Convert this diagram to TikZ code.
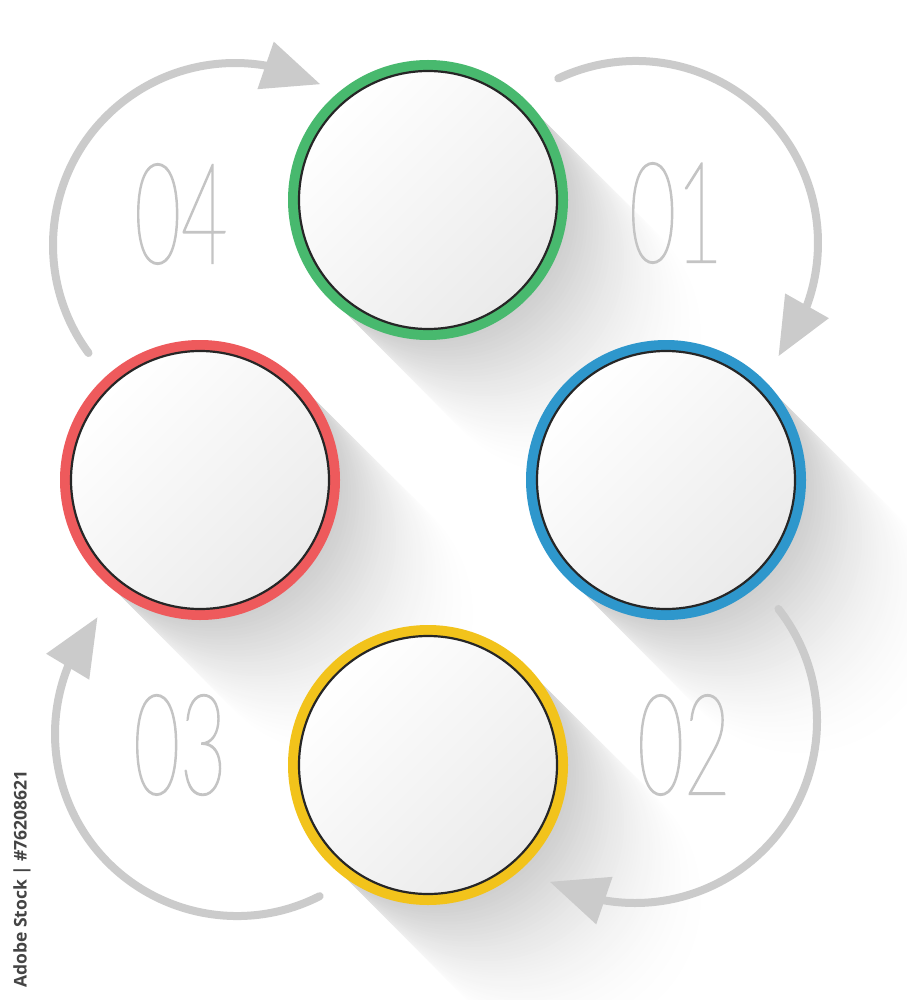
\documentclass[tikz,border=0pt]{standalone}
\usepackage{fontspec}
\usepackage{xcolor}
\usepackage{tikz}
\usetikzlibrary{calc,arrows.meta,bending}
\setmainfont{Open Sans}
% thin face for the step numbers
\def\numface{Liberation Sans}
\IfFontExistsTF{DejaVu Sans ExtraLight}{\def\numface{DejaVu Sans ExtraLight}}{}
\IfFontExistsTF{Open Sans Light}{\def\numface{Open Sans Light}}{}
\IfFontExistsTF{Lato Hairline}{\def\numface{Lato Hairline}}{}
\IfFontExistsTF{Noto Sans Thin}{\def\numface{Noto Sans Thin}}{}
\IfFontExistsTF{Poppins Thin}{\def\numface{Poppins Thin}}{}
\IfFontExistsTF{Fira Sans Thin}{\def\numface{Fira Sans Thin}}{}
\IfFontExistsTF{Lato Thin}{\def\numface{Lato Thin}}{}
\newfontfamily\numfont[FakeStretch=0.57, FakeBold=1]{\numface}
\definecolor{ringgreen}{HTML}{48B96E}
\definecolor{ringblue}{HTML}{2E97CC}
\definecolor{ringred}{HTML}{EE5A5C}
\definecolor{ringyellow}{HTML}{F2C31B}
\definecolor{flow}{HTML}{CBCBCB}
\definecolor{numgray}{HTML}{C4C4C4}
\definecolor{shadow}{HTML}{CDCDCD}
\definecolor{stockmark}{HTML}{444444}
\tikzset{
  disc/.style={circle, inner sep=0pt, minimum size=258pt,
    top color=white, bottom color=black!8, shading angle=45,
    draw=black!85, line width=2.2pt, preaction={draw=#1, line width=22pt}},
  flowarc/.style={draw=flow, line width=8pt, line cap=round,
    -{Triangle[length=58pt,width=48pt]}},
  num/.style={text=numgray, inner sep=0pt, font=\numfont\fontsize{141}{141}\selectfont},
  stock/.style={text=stockmark, inner sep=0pt, font=\bfseries\fontsize{17.5}{17.5}\selectfont},
}

\begin{document}
\begin{tikzpicture}[x=1pt, y=-1pt]
  \useasboundingbox (0,0) rectangle (906,1000);
  \fill[white] (0,0) rectangle (906,1000);
  % centres of the four steps
  \coordinate (cg) at (428,200);
  \coordinate (cb) at (666,480);
  \coordinate (cr) at (200,480);
  \coordinate (cy) at (428,765);
  % long shadows
  \foreach \c in {cg,cb,cr,cy} {
    \foreach \s in {210,206,...,0} {
      \pgfmathsetmacro\p{100*(1-\s/210)^2}
      \fill[shadow!\p!white] ($(\c)+(\s*0.7071,\s*0.7071)$) circle (138);
    }
  }
  % arc centres
  \coordinate (a1) at (636,243);
  \coordinate (a2) at (635,721);
  \coordinate (a3) at (237,734);
  \coordinate (a4) at (235,245);
  \draw[flowarc] ($(a1)+(244.7:182)$) arc (244.7:398.5:182);
  \draw[flowarc] ($(a2)+(-38:182)$) arc (-38:118:182);
  \draw[flowarc] ($(a3)+(63:182)$) arc (63:220:182);
  \draw[flowarc] ($(a4)+(143.6:182)$) arc (143.6:298:182);
  % numbers
  \node[num] (n1) at (676,213) {01};
  \node[num] (n2) at (684,745) {02};
  \node[num] (n3) at (180,745) {03};
  \node[num] (n4) at (181,214) {04};
  % discs
  \node[disc=ringgreen] (green) at (cg) {};
  \node[disc=ringblue] (blue) at (cb) {};
  \node[disc=ringred] (red) at (cr) {};
  \node[disc=ringyellow] (yellow) at (cy) {};
  \node[stock, rotate=90] (mark) at (22,879) {Adobe Stock | \#76208621};
\end{tikzpicture}
\end{document}
